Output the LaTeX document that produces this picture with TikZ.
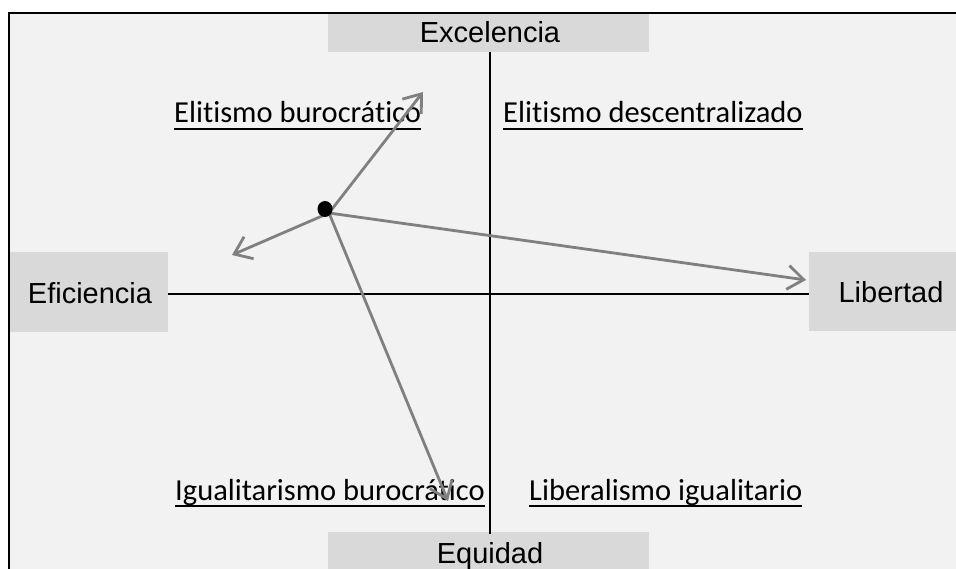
\documentclass[tikz,border=0pt]{standalone}
\usepackage{fontspec}
\setmainfont{Liberation Sans}
\newfontfamily\calib[Ligatures={NoCommon}]{Carlito}
\usetikzlibrary{arrows.meta,shapes.geometric}
\definecolor{bgc}{HTML}{F2F2F2}
\definecolor{boxc}{HTML}{D9D9D9}
\definecolor{arrc}{HTML}{808080}
\tikzset{
  axisbox/.style={fill=boxc, draw=none},
  axislabel/.style={font=\fontsize{29}{31}\selectfont, inner sep=0pt, anchor=base},
  quadlabel/.style={font=\calib\fontsize{30.5}{32}\selectfont, inner sep=0pt, anchor=base west},
  uline/.style={line width=2.2pt, black},
  axisline/.style={line width=2.2pt, black},
  vec/.style={arrc, line width=2.8pt, -{Straight Barb[length=16pt,width=24pt,line width=2.8pt]}},
}
\begin{document}
\begin{tikzpicture}[x=1pt,y=-1pt]
\useasboundingbox (0,0) rectangle (956,569);
\clip (0,0) rectangle (956,569);
% frame
\fill[bgc] (9,13) rectangle (970,590);
\draw[line width=2.8pt, black] (9,590) -- (9,13) -- (970,13);
% axis boxes
\fill[axisbox] (328,14.4) rectangle (649,52);
\fill[axisbox] (328,532) rectangle (649,590);
\fill[axisbox] (10.4,252) rectangle (168,332);
\fill[axisbox] (809,252) rectangle (970,331);
\node[axislabel] (exc) at (490,43) {Excelencia};
\node[axislabel] (equ) at (490,563) {Equidad};
\node[axislabel] (efi) at (90,304) {Eficiencia};
\node[axislabel] (lib) at (891,303) {Libertad};
\coordinate (top) at (490,52);
\coordinate (bot) at (490,534);
\coordinate (lft) at (168,294);
\coordinate (rgt) at (809,294);
% axes
\draw[axisline] (top) -- (bot);
\draw[axisline] (lft) -- (rgt);
% quadrant labels
\node[quadlabel] (eb) at (174,123) {Elitismo burocrático};
\node[quadlabel] (ed) at (503,123) {Elitismo descentralizado};
\node[quadlabel] (ib) at (175,500) {Igualitarismo burocrático};
\node[quadlabel] (li) at (529,500) {Liberalismo igualitario};
\foreach \n in {eb,ed,ib,li}{
  \draw[uline] ([yshift=-6pt]\n.base west) -- ([yshift=-6pt]\n.base east);
}
% vectors
\coordinate (o) at (329,213);
\coordinate (pu) at (423,92);
\coordinate (pl) at (232,255);
\coordinate (pr) at (806,280);
\coordinate (pd) at (448,501);
\draw[vec] (o) -- (pu);
\draw[vec] (o) -- (pl);
\draw[vec] (o) -- (pr);
\draw[vec] (o) -- (pd);
\node[fill=black, ellipse, minimum width=15pt, minimum height=16pt, inner sep=0pt] (dot) at (325,209) {};
\end{tikzpicture}
\end{document}
